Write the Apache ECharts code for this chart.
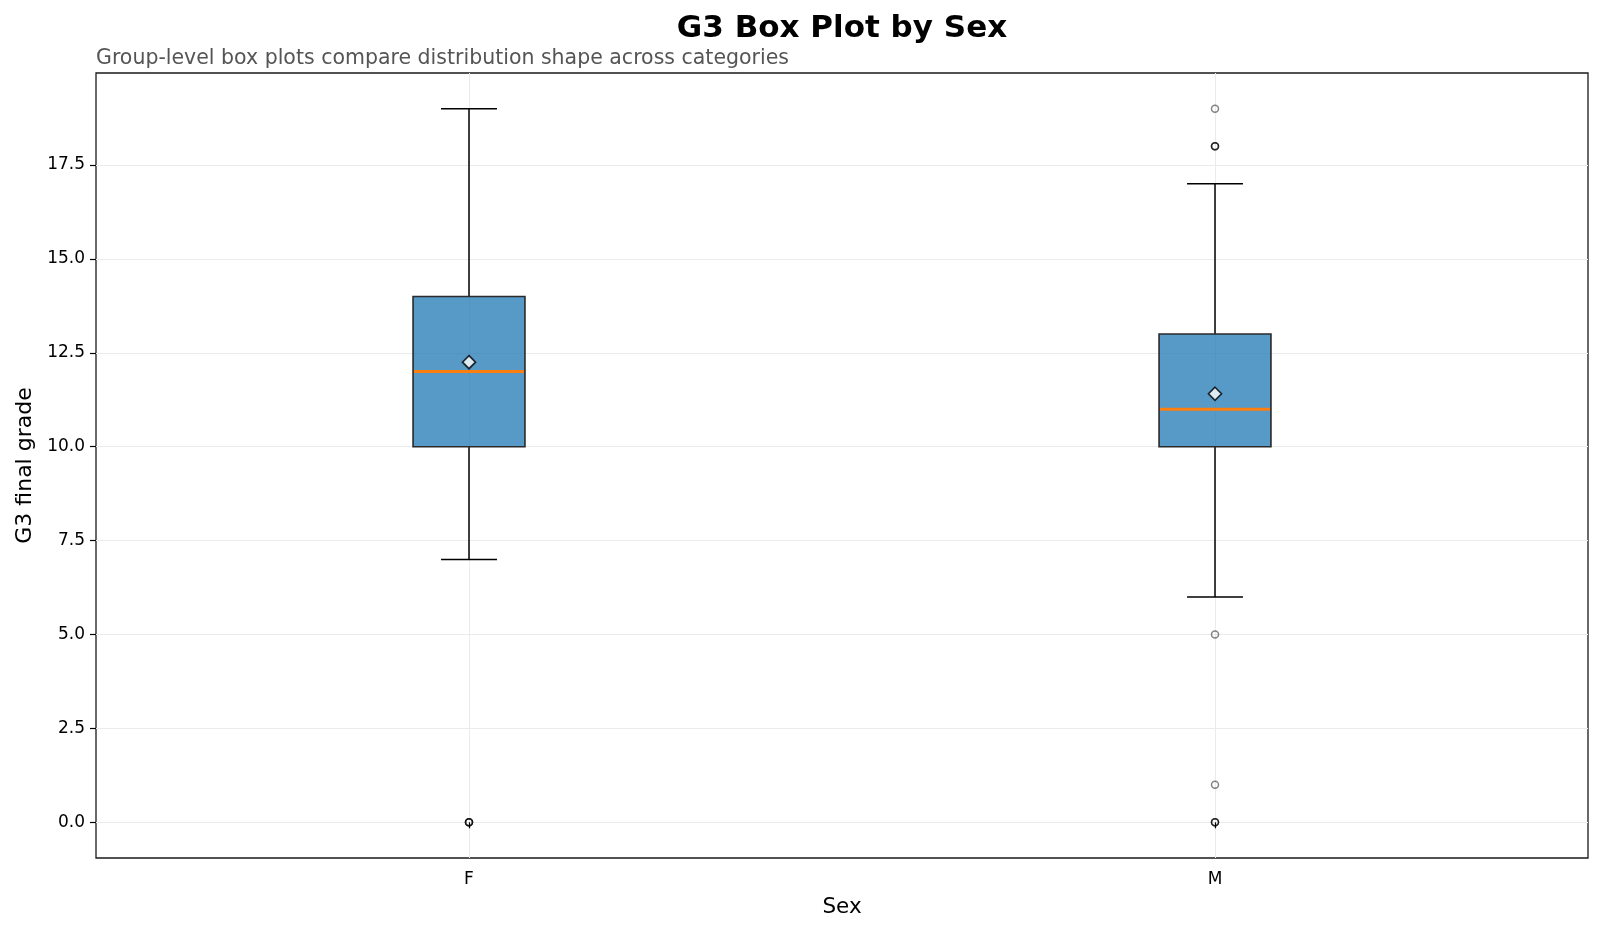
<!DOCTYPE html>
<html><head><meta charset="utf-8">
<script src="https://cdn.jsdelivr.net/npm/echarts@6/dist/echarts.min.js"></script>
<style>html,body{margin:0;padding:0;background:#fff}#c{width:1600px;height:931px}</style>
</head><body><div id="c"></div>
<script>
const categories = ['F', 'M'];
const whiskerLow = [7, 6];
const q1 = [10, 10];
const median = [12, 11];
const q3 = [14, 13];
const whiskerHigh = [19, 17];
const means = [12.25, 11.41];
const outliersF = [0, 0, 0, 0];
const outliersM = [19, 18, 18, 18, 5, 1, 0, 0, 0];
const yTicks = [0, 2.5, 5, 7.5, 10, 12.5, 15, 17.5];

const FONT = 'DejaVu Sans';
const boxData = categories.map((c, i) => [i + 1, whiskerLow[i], q1[i], median[i], q3[i], whiskerHigh[i]]);
const meanData = categories.map((c, i) => [i + 1, means[i]]);
const outlierData = [];
outliersF.forEach(v => outlierData.push([1, v]));
outliersM.forEach(v => outlierData.push([2, v]));

const chart = echarts.init(document.getElementById('c'), null, {renderer: 'canvas'});
const option = {
  animation: false,
  backgroundColor: '#fff',
  textStyle: {fontFamily: FONT},
  graphic: [
    {type: 'text', x: 842, y: 29, style: {text: 'G3 Box Plot by Sex', font: 'bold 31px "DejaVu Sans"', fill: '#000', align: 'center', verticalAlign: 'middle'}},
    {type: 'text', x: 96, y: 59, style: {text: 'Group-level box plots compare distribution shape across categories', font: '20.5px "DejaVu Sans"', fill: '#555', align: 'left', verticalAlign: 'middle'}}
  ],
  grid: {left: 96, right: 12, top: 73, bottom: 73, show: true, borderColor: '#1a1a1a', borderWidth: 1.3, backgroundColor: 'transparent'},
  xAxis: {
    type: 'value', min: 0.5, max: 2.5,
    name: 'Sex', nameLocation: 'middle', nameGap: 38,
    nameTextStyle: {fontFamily: FONT, fontSize: 21.5, color: '#000'},
    axisLine: {show: false},
    axisTick: {show: true, customValues: [1, 2], length: 6, lineStyle: {color: '#000', width: 1.2}},
    axisLabel: {customValues: [1, 2], formatter: v => categories[Math.round(v) - 1], fontFamily: FONT, fontSize: 17, color: '#000', margin: 13},
    splitLine: {show: true, lineStyle: {color: '#ebebeb', width: 1}}
  },
  yAxis: {
    type: 'value', min: -0.95, max: 19.95,
    name: 'G3 final grade', nameLocation: 'middle', nameGap: 59,
    nameTextStyle: {fontFamily: FONT, fontSize: 22, color: '#000'},
    axisLine: {show: false},
    axisTick: {show: true, customValues: yTicks, length: 6, lineStyle: {color: '#000', width: 1.2}},
    axisLabel: {customValues: yTicks, formatter: v => v.toFixed(1), fontFamily: FONT, fontSize: 17, color: '#000', margin: 11},
    splitLine: {show: true, lineStyle: {color: '#ebebeb', width: 1}}
  },
  series: [
    {
      type: 'custom', z: 2,
      data: boxData,
      encode: {x: 0, y: [1, 2, 3, 4, 5]},
      renderItem: function (params, api) {
        const x = api.value(0);
        const lo = api.coord([x, api.value(1)]);
        const b1 = api.coord([x, api.value(2)]);
        const md = api.coord([x, api.value(3)]);
        const b3 = api.coord([x, api.value(4)]);
        const hi = api.coord([x, api.value(5)]);
        const bw = api.size([0.15, 0])[0];
        const cw = bw / 2;
        const cx = lo[0];
        const black = {stroke: '#000', lineWidth: 1.5};
        return {type: 'group', children: [
          {type: 'line', shape: {x1: cx, y1: b1[1], x2: cx, y2: lo[1]}, style: black},
          {type: 'line', shape: {x1: cx, y1: b3[1], x2: cx, y2: hi[1]}, style: black},
          {type: 'line', shape: {x1: cx - cw / 2, y1: lo[1], x2: cx + cw / 2, y2: lo[1]}, style: black},
          {type: 'line', shape: {x1: cx - cw / 2, y1: hi[1], x2: cx + cw / 2, y2: hi[1]}, style: black},
          {type: 'rect', shape: {x: cx - bw / 2, y: b3[1], width: bw, height: b1[1] - b3[1]}, style: {fill: 'rgba(31,119,180,0.75)', stroke: '#2a2a2a', lineWidth: 1.6}},
          {type: 'line', shape: {x1: cx - bw / 2 + 1, y1: md[1], x2: cx + bw / 2 - 1, y2: md[1]}, style: {stroke: '#ff7f0e', lineWidth: 3}}
        ]};
      }
    },
    {
      type: 'scatter', z: 3,
      data: outlierData,
      symbol: 'circle', symbolSize: 7,
      itemStyle: {color: 'rgba(0,0,0,0)', borderColor: 'rgba(0,0,0,0.6)', borderWidth: 1.5}
    },
    {
      type: 'scatter', z: 4,
      data: meanData,
      symbol: 'diamond', symbolSize: 13,
      itemStyle: {color: '#fff', borderColor: '#000', borderWidth: 1.7}
    }
  ]
};
chart.setOption(option);
</script>
</body></html>
